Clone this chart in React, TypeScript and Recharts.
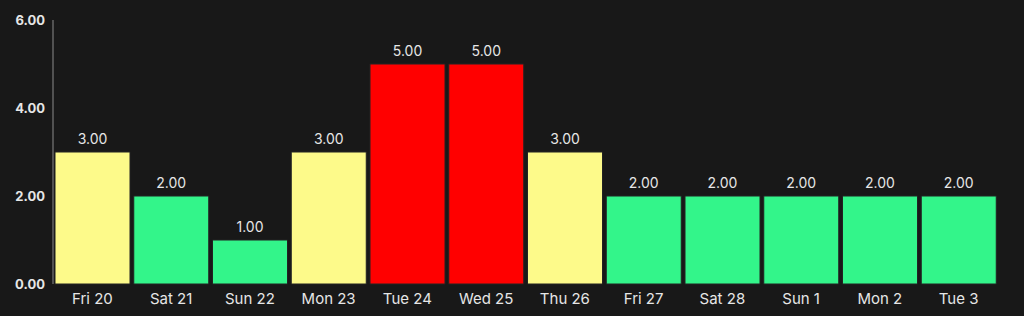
import { BarChart, Bar, XAxis, YAxis, Cell, LabelList } from "recharts"

const days = ["Fri 20", "Sat 21", "Sun 22", "Mon 23", "Tue 24", "Wed 25", "Thu 26", "Fri 27", "Sat 28", "Sun 1", "Mon 2", "Tue 3"]
const values = [3, 2, 1, 3, 5, 5, 3, 2, 2, 2, 2, 2]
const yTicks = [0, 2, 4, 6]

// colour by level
const barColor = (v: number) => (v >= 5 ? "#ff0000" : v >= 3 ? "#fdfa8a" : "#33f58a")

const data = days.map((day, i) => ({ day, value: values[i] }))

export default function App() {
  return (
    <div style={{ position: "absolute", left: 0, top: 0, width: 1024, height: 316, background: "#181818", fontFamily: "Inter, 'Noto Sans', sans-serif" }}>
      <BarChart width={1024} height={316} data={data} margin={{ top: 20, right: 26, left: 0, bottom: 0 }} barCategoryGap={2}>
        <XAxis
          dataKey="day"
          axisLine={false}
          tickLine={false}
          height={32}
          tick={{ fill: "#e6e6e6", fontSize: 15, dy: 1 }}
        />
        <YAxis
          width={53}
          domain={[0, 6]}
          ticks={yTicks}
          tickFormatter={(v: number) => v.toFixed(2)}
          axisLine={{ stroke: "#8a8a8a" }}
          tickLine={false}
          tick={{ fill: "#e6e6e6", fontSize: 13, fontWeight: 700 }}
        />
        <Bar dataKey="value" isAnimationActive={false} stroke="#222" strokeWidth={1}>
          {data.map((d, i) => (
            <Cell key={i} fill={barColor(d.value)} />
          ))}
          <LabelList dataKey="value" position="top" formatter={(v: any) => Number(v).toFixed(2)} fill="#e6e6e6" fontSize={14} offset={8} />
        </Bar>
      </BarChart>
    </div>
  )
}
